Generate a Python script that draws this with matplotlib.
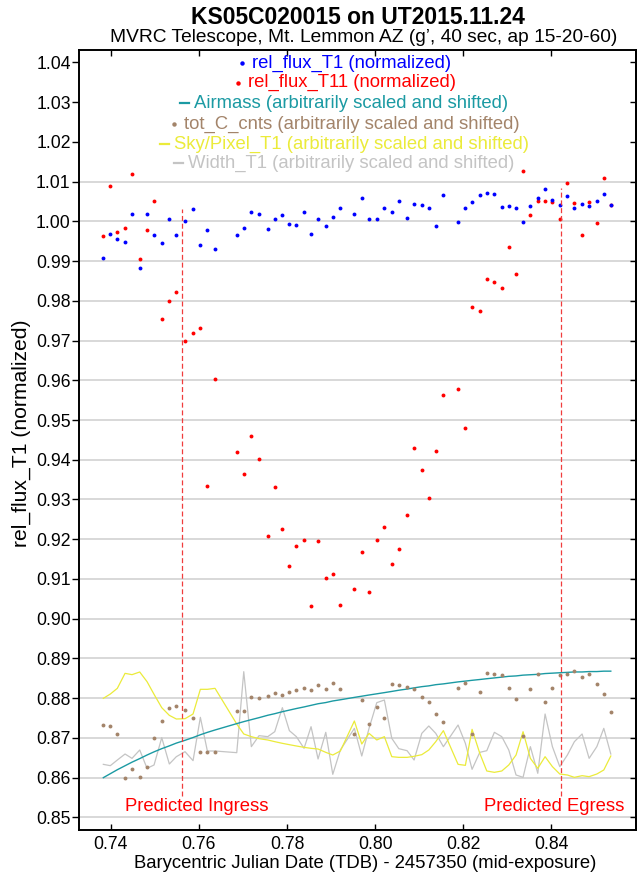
import matplotlib
matplotlib.use("Agg")
import matplotlib.pyplot as plt
from matplotlib.lines import Line2D

plt.rcParams['font.family'] = ['Liberation Sans', 'DejaVu Sans']
plt.rcParams['lines.scale_dashes'] = False

# Données (BJD_TDB - 2457350)
bjd = [0.73832, 0.73991, 0.74150, 0.74325, 0.74483, 0.74658, 0.74824, 0.74983, 0.75158, 0.75330,
       0.75489, 0.75686, 0.75868, 0.76034, 0.76193, 0.76367, 0.76860, 0.77019, 0.77191, 0.77366,
       0.77563, 0.77722, 0.77895, 0.78054, 0.78213, 0.78387, 0.78546, 0.78705, 0.78880, 0.79039,
       0.79211, 0.79529, 0.79697, 0.79862, 0.80037, 0.80210, 0.80378, 0.80537, 0.80725, 0.80884,
       0.81059, 0.81218, 0.81376, 0.81549, 0.81882, 0.82048, 0.82200, 0.82375, 0.82534, 0.82706,
       0.82874, 0.83033, 0.83198, 0.83357, 0.83523, 0.83691, 0.83857, 0.84023, 0.84190, 0.84363,
       0.84522, 0.84697, 0.84856, 0.85031, 0.85189, 0.85348]

rel_flux_t1 = [0.99073, 0.99679, 0.99545, 0.99485, 1.00177, 0.98829, 1.00177, 0.99646, 0.99444, 1.00067,
               0.99646, 1.00008, 1.00303, 0.99402, 0.99780, 0.99309, 0.99663, 0.99840, 1.00244, 1.00177,
               0.99814, 1.00050, 1.00152, 0.99941, 0.99915, 1.00244, 0.99688, 1.00050, 0.99882, 1.00117,
               1.00345, 1.00177, 1.00580, 1.00050, 1.00050, 1.00328, 1.00243, 1.00521, 1.00075, 1.00429,
               1.00412, 1.00345, 0.99881, 1.00656, 0.99974, 1.00328, 1.00496, 1.00664, 1.00723, 1.00681,
               1.00370, 1.00386, 1.00328, 0.99974, 1.00386, 1.00597, 1.00816, 1.00546, 1.00412, 1.00639,
               1.00328, 1.00429, 1.00386, 1.00504, 1.00681, 1.00412]

rel_flux_t11 = [0.99620, 1.00891, 0.99738, 0.99839, 1.01203, 0.99040, 0.99780, 1.00521, 0.97541, 0.97996,
                0.98232, 0.96986, 0.97179, 0.97314, 0.93349, 0.96043, 0.94192, 0.93636, 0.94596, 0.94031,
                0.92071, 0.93324, 0.92263, 0.91328, 0.91833, 0.91977, 0.90318, 0.91960, 0.91035, 0.91136,
                0.90336, 0.90749, 0.91667, 0.90664, 0.91977, 0.92306, 0.91386, 0.91758, 0.92600, 0.94300,
                0.93737, 0.93046, 0.94209, 0.95631, 0.95783, 0.94806, 0.97844, 0.97744, 0.98551, 0.98485,
                0.98316, 0.99343, 0.98662, 1.01270, 1.00151, 1.00521, 1.00521, 1.00479, 1.00067, 1.00975,
                1.00462, 0.99646, 1.00479, 0.99957, 1.01086, 1.00400]

airmass = [0.8600, 0.8610, 0.8620, 0.8630, 0.8639, 0.8648, 0.8657, 0.8665, 0.8673, 0.8680,
           0.8687, 0.8694, 0.8701, 0.8708, 0.8714, 0.8720, 0.8736, 0.8741, 0.8746, 0.8751,
           0.8757, 0.8761, 0.8766, 0.8770, 0.8774, 0.8778, 0.8782, 0.8786, 0.8789, 0.8793,
           0.8796, 0.8802, 0.8805, 0.8808, 0.8811, 0.8814, 0.8817, 0.8820, 0.8823, 0.8826,
           0.8829, 0.8831, 0.8834, 0.8836, 0.8841, 0.8843, 0.8845, 0.8847, 0.8849, 0.8851,
           0.8853, 0.8855, 0.8856, 0.8858, 0.8859, 0.8860, 0.8862, 0.8863, 0.8864, 0.8865,
           0.8866, 0.8866, 0.8867, 0.8867, 0.8868, 0.8868]

tot_c_cnts = [0.87325, 0.87311, 0.87099, 0.85999, 0.86218, 0.86024, 0.86260, 0.86990, 0.87433, 0.87753,
              0.87795, 0.87702, 0.87501, 0.86645, 0.86645, 0.86645, 0.87677, 0.87677, 0.88029, 0.88004,
              0.88046, 0.88130, 0.88088, 0.88163, 0.88206, 0.88256, 0.88197, 0.88323, 0.88239, 0.88373,
              0.88222, 0.87091, 0.87954, 0.87350, 0.87778, 0.87501, 0.88364, 0.88323, 0.88281, 0.88239,
              0.88029, 0.87904, 0.87602, 0.87409, 0.88256, 0.88382, 0.87091, 0.88147, 0.88633, 0.88616,
              0.88574, 0.88264, 0.87988, 0.87057, 0.88222, 0.88616, 0.87904, 0.88264, 0.88591, 0.88616,
              0.88675, 0.88532, 0.88599, 0.88364, 0.88113, 0.87644]

sky_pixel_t1 = [0.87996, 0.88105, 0.88248, 0.88625, 0.88592, 0.88659, 0.88416, 0.88097, 0.87761, 0.87568,
                0.87476, 0.87484, 0.87602, 0.88223, 0.88223, 0.88248, 0.87350, 0.87099, 0.87032, 0.86981,
                0.86948, 0.86906, 0.86864, 0.86830, 0.86797, 0.86763, 0.86738, 0.86721, 0.86637, 0.86570,
                0.86671, 0.87426, 0.86847, 0.87115, 0.86948, 0.87032, 0.86528, 0.86511, 0.86511, 0.86537,
                0.86579, 0.86696, 0.86906, 0.87183, 0.86335, 0.86310, 0.87216, 0.86612, 0.86168, 0.86134,
                0.86168, 0.86319, 0.86570, 0.87157, 0.86486, 0.86235, 0.86528, 0.86277, 0.86092, 0.86067,
                0.86008, 0.86050, 0.86025, 0.86092, 0.86193, 0.86545]

width_t1 = [0.86335, 0.86302, 0.86444, 0.86595, 0.86486, 0.86696, 0.86235, 0.86319, 0.87006, 0.86344,
            0.86528, 0.86654, 0.86428, 0.87518, 0.86671, 0.86671, 0.86629, 0.88667, 0.86780, 0.87057,
            0.87032, 0.87157, 0.87761, 0.87183, 0.87032, 0.86738, 0.87283, 0.86470, 0.87141, 0.86084,
            0.86696, 0.87241, 0.86545, 0.87241, 0.87887, 0.87954, 0.86990, 0.86730, 0.86679, 0.86444,
            0.87115, 0.87300, 0.87115, 0.86780, 0.87325, 0.86864, 0.86210, 0.86637, 0.86679, 0.87141,
            0.87032, 0.86696, 0.86067, 0.86008, 0.86780, 0.86109, 0.87602, 0.86780, 0.86277, 0.86570,
            0.86906, 0.87099, 0.86486, 0.86780, 0.87241, 0.86595]

ingress = 0.7562 #Entrée prédite
egress = 0.8422 #Sortie prédite

xticks = [0.74, 0.76, 0.78, 0.80, 0.82, 0.84]
yticks = [0.85, 0.86, 0.87, 0.88, 0.89, 0.90, 0.91, 0.92, 0.93, 0.94,
          0.95, 0.96, 0.97, 0.98, 0.99, 1.00, 1.01, 1.02, 1.03, 1.04]
grid_levels = yticks[:17] #Pas de grille au-dessus de 1.01

#Couleurs
c_t1 = '#0000ff'
c_t11 = '#ff0000'
c_air = '#1b9aa3'
c_cnts = '#a3846a'
c_sky = '#ebeb3a'
c_width = '#c4c4c4'

W, H = 637, 875
fig = plt.figure(figsize=(W / 100, H / 100), dpi=100)
ax = fig.add_axes([79 / W, 1 - 830 / H, (636 - 79) / W, (830 - 50) / H])

for g in grid_levels:
    ax.axhline(g, color='#d6d6d6', lw=1.3, zorder=0)

ax.plot(bjd, width_t1, color=c_width, lw=0.9, zorder=2)
ax.plot(bjd, sky_pixel_t1, color=c_sky, lw=0.9, zorder=2)
ax.plot(bjd, airmass, color=c_air, lw=1.0, zorder=3)
ax.plot(bjd, tot_c_cnts, 'o', color=c_cnts, ms=2.8, mew=0, zorder=3)
ax.plot(bjd, rel_flux_t11, 'o', color=c_t11, ms=2.8, mew=0, zorder=4)
ax.plot(bjd, rel_flux_t1, 'o', color=c_t1, ms=2.8, mew=0, zorder=5)

#Lignes ingress / egress
ax.plot([ingress, ingress], [0.8553, 1.0031], color='#f03c3c', lw=0.9, dashes=(3.6, 2.0), zorder=6)
ax.plot([egress, egress], [0.8553, 1.0084], color='#f03c3c', lw=0.9, dashes=(3.6, 2.0), zorder=6)
ax.text(0.75941, 0.8527, 'Predicted Ingress', color='red', fontsize=13.3, ha='center', va='center')
ax.text(0.84061, 0.8527, 'Predicted Egress', color='red', fontsize=13.3, ha='center', va='center')

ax.set_xlim(0.7328, 0.8592)
ax.set_ylim(0.84683, 1.04311)
ax.set_xticks(xticks)
ax.set_xticklabels([f'{v:.2f}' for v in xticks])
ax.set_yticks(yticks)
ax.set_yticklabels([f'{v:.2f}' for v in yticks])
ax.tick_params(axis='x', direction='in', top=True, length=4, width=1, labelsize=12.7, pad=4)
ax.tick_params(axis='y', direction='out', length=5, width=1, labelsize=12.7, pad=1)
for sp in ax.spines.values():
    sp.set_linewidth(1.4)

sec = ax.secondary_yaxis('right')
sec.set_yticks(yticks)
sec.tick_params(direction='in', length=4, width=1, labelright=False)
sec.spines['right'].set_linewidth(1.4)

#Titres
fig.text(358 / W, 1 - 17 / H, 'KS05C020015 on UT2015.11.24', ha='center', va='center',
         fontsize=16.5, fontweight='bold')
fig.text(364 / W, 1 - 37 / H, 'MVRC Telescope, Mt. Lemmon AZ (g\u2019, 40 sec, ap 15-20-60)',
         ha='center', va='center', fontsize=13.8)
fig.text(21 / W, 1 - 433 / H, 'rel_flux_T1 (normalized)', rotation=90, ha='center', va='center',
         fontsize=15.2)
fig.text(365.5 / W, 1 - 863 / H, 'Barycentric Julian Date (TDB) - 2457350 (mid-exposure)',
         ha='center', va='center', fontsize=13.3)

#Légende centrée
legend_labels = ['rel_flux_T1 (normalized)',
                 'rel_flux_T11 (normalized)',
                 'Airmass (arbitrarily scaled and shifted)',
                 'tot_C_cnts (arbitrarily scaled and shifted)',
                 'Sky/Pixel_T1 (arbitrarily scaled and shifted)',
                 'Width_T1 (arbitrarily scaled and shifted)']
legend_colors = [c_t1, c_t11, c_air, c_cnts, c_sky, c_width]
legend_kinds = ['dot', 'dot', 'dash', 'dot', 'dash', 'dash']
legend_rows = [63.3, 82.7, 103.3, 124, 144, 163.3]

texts = []
for lab, col, yrow in zip(legend_labels, legend_colors, legend_rows):
    texts.append(fig.text(351.5 / W, 1 - yrow / H, lab, color=col, ha='center', va='center',
                          fontsize=13.3))

fig.canvas.draw()
renderer = fig.canvas.get_renderer()
for t, col, kind, yrow in zip(texts, legend_colors, legend_kinds, legend_rows):
    x0 = t.get_window_extent(renderer).x0
    yf = 1 - yrow / H
    if kind == 'dot':
        fig.add_artist(Line2D([(x0 - 10) / W], [yf], marker='o', ms=3.2, mew=0, color=col,
                              linestyle='none', transform=fig.transFigure))
    else:
        fig.add_artist(Line2D([(x0 - 14) / W, (x0 - 5) / W], [yf, yf], lw=1.6, color=col,
                              transform=fig.transFigure))

fig.savefig('out.png', dpi=100)
